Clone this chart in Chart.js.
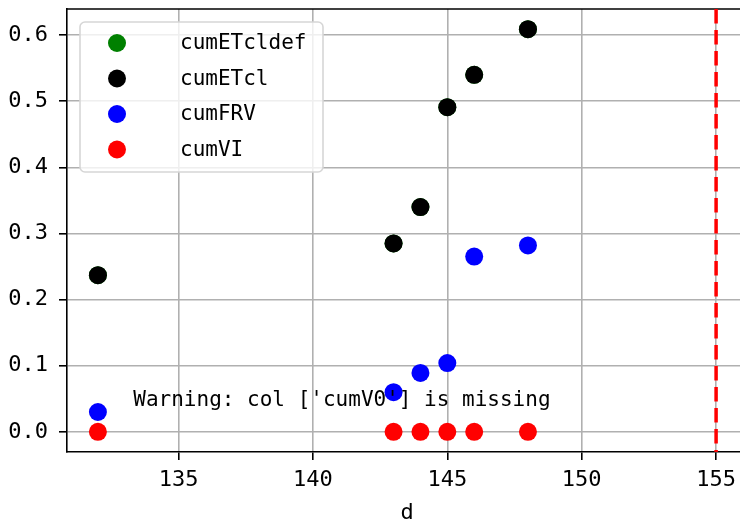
<!DOCTYPE html>
<html>
<head>
<meta charset="utf-8">
<script src="https://cdn.jsdelivr.net/npm/chart.js@4.4.0/dist/chart.umd.min.js"></script>
<style>
    html, body { margin: 0; padding: 0; background: #ffffff; overflow: hidden; }
    #wrap { width: 756px; height: 525px; }
</style>
</head>
<body>
<div id="wrap"><canvas id="chart" width="756" height="525"></canvas></div>
<script>
// data
const days = [132, 143, 144, 145, 146, 148];
const cumETcldef = [0.237, 0.285, 0.340, 0.491, 0.540, 0.609];
const cumETcl = [0.237, 0.285, 0.340, 0.491, 0.540, 0.609];
const cumFRV = [0.030, 0.060, 0.089, 0.104, 0.265, 0.282];
const cumVI = [0, 0, 0, 0, 0, 0];
const xTicks = [135, 140, 145, 150, 155];
const yTicks = [0.0, 0.1, 0.2, 0.3, 0.4, 0.5, 0.6];
const vLineX = 155;
const warningText = "Warning: col ['cumV0'] is missing";
const xTitle = 'd';

const FONT = '"DejaVu Sans Mono", monospace';

function pts(ys) {
    return days.map((d, i) => ({ x: d, y: ys[i] }));
}

const series = [
    { label: 'cumETcldef', data: cumETcldef, color: '#008000', order: 4 },
    { label: 'cumETcl', data: cumETcl, color: '#000000', order: 3 },
    { label: 'cumFRV', data: cumFRV, color: '#0000ff', order: 2 },
    { label: 'cumVI', data: cumVI, color: '#ff0000', order: 1 }
];

// top spine, red reference line, warning text, legend, axis title
const extras = {
    id: 'extras',
    beforeDatasetsDraw(chart) {
        const { ctx, chartArea: a } = chart;
        ctx.save();
        ctx.strokeStyle = '#000';
        ctx.lineWidth = 1.6;
        ctx.beginPath();
        ctx.moveTo(a.left, a.top);
        ctx.lineTo(a.right, a.top);
        ctx.stroke();
        ctx.restore();
    },
    afterDatasetsDraw(chart) {
        const { ctx, chartArea: a, scales } = chart;
        ctx.save();
        // dashed vertical line
        const vx = scales.x.getPixelForValue(vLineX);
        ctx.strokeStyle = '#ff0000';
        ctx.lineWidth = 3.5;
        ctx.setLineDash([14.5, 6.5]);
        ctx.beginPath();
        ctx.moveTo(vx, a.top);
        ctx.lineTo(vx, a.bottom);
        ctx.stroke();
        ctx.setLineDash([]);

        // warning text at axes fraction
        ctx.fillStyle = '#000';
        ctx.font = '21px ' + FONT;
        ctx.textBaseline = 'middle';
        ctx.textAlign = 'left';
        ctx.fillText(warningText, a.left + 0.0975 * (a.right - a.left), a.bottom - 0.116 * (a.bottom - a.top));

        // x axis title
        ctx.textAlign = 'center';
        ctx.font = '22px ' + FONT;
        ctx.fillText(xTitle, (a.left + a.right) / 2, a.bottom + 61);

        // legend
        ctx.font = '21px ' + FONT;
        ctx.textAlign = 'left';
        const lx = a.left + 13, ly = a.top + 13, lw = 243, lh = 150, r = 5;
        ctx.beginPath();
        ctx.roundRect(lx, ly, lw, lh, r);
        ctx.fillStyle = 'rgba(255,255,255,0.8)';
        ctx.fill();
        ctx.strokeStyle = '#d6d6d6';
        ctx.lineWidth = 1.6;
        ctx.stroke();
        series.forEach((s, i) => {
            const cy = ly + 21 + i * 35.5;
            ctx.beginPath();
            ctx.arc(lx + 37, cy, 9, 0, Math.PI * 2);
            ctx.fillStyle = s.color;
            ctx.fill();
            ctx.fillStyle = '#000';
            ctx.fillText(s.label, lx + 100, cy + 1);
        });
        ctx.restore();
    }
};

const chart = new Chart(document.getElementById('chart'), {
    type: 'scatter',
    data: {
        datasets: series.map(s => ({
            label: s.label,
            data: pts(s.data),
            backgroundColor: s.color,
            borderColor: s.color,
            borderWidth: 0,
            pointRadius: 9,
            pointHoverRadius: 9,
            order: s.order
        }))
    },
    options: {
        responsive: false,
        animation: false,
        layout: { padding: { left: 0, top: 5, right: 4, bottom: 0 } },
        plugins: { legend: { display: false }, tooltip: { enabled: false } },
        scales: {
            x: {
                type: 'linear',
                min: 130.85,
                max: 156.15,
                afterBuildTicks: scale => { scale.ticks = xTicks.map(v => ({ value: v })); },
                afterFit: scale => {
                    scale.height = 73;
                    scale.paddingLeft = 0;
                    scale.paddingRight = 0;
                },
                grid: { color: '#b0b0b0', lineWidth: 1.6, tickColor: '#000', tickLength: 8, drawTicks: true },
                border: { color: '#000', width: 1.6 },
                ticks: { color: '#000', font: { family: FONT, size: 22 }, padding: 7, callback: v => String(v) }
            },
            y: {
                type: 'linear',
                min: -0.0305,
                max: 0.6395,
                afterBuildTicks: scale => { scale.ticks = yTicks.map(v => ({ value: v })); },
                afterFit: scale => {
                    scale.width = 67;
                    scale.paddingTop = 0;
                    scale.paddingBottom = 0;
                },
                grid: { color: '#b0b0b0', lineWidth: 1.6, tickColor: '#000', tickLength: 8, drawTicks: true },
                border: { color: '#000', width: 1.6 },
                ticks: { color: '#000', font: { family: FONT, size: 22 }, padding: 11, callback: v => v.toFixed(1) }
            }
        }
    },
    plugins: [extras]
});
</script>
</body>
</html>
